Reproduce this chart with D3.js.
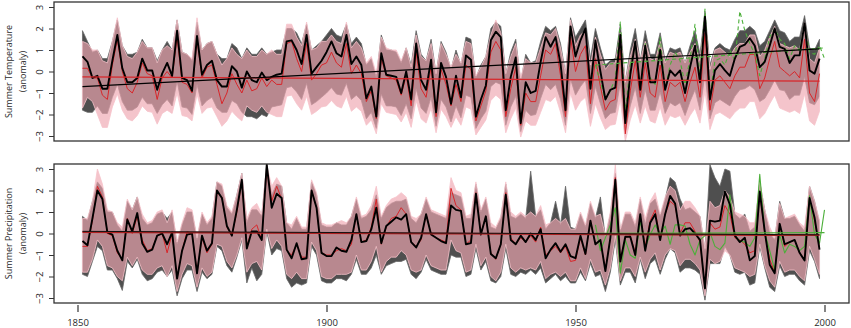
<!DOCTYPE html>
<html>
<head>
<meta charset="utf-8">
<script src="https://cdn.jsdelivr.net/npm/d3@7"></script>
<style>
    body { margin: 0; background: #fff; }
    svg text { font-family: "Open Sans", "Liberation Sans", sans-serif; fill: #2a2a2a; }
</style>
</head>
<body>
<svg id="chart" width="851" height="328"></svg>
<script>
// ---- data (anomalies) ----
const years = d3.range(1851, 2000);
const greenYears = d3.range(1954, 2001);
const xTicks = [1850, 1900, 1950, 2000];
const yTicks = [-3, -2, -1, 0, 1, 2, 3];

// summer temperature
const tempBlack = [0.7,0.45,-0.3,-0.2,-0.8,-0.8,0.5,1.7,0.15,-0.5,
    -0.5,-0.3,0.6,0.05,0.05,-0.85,-0.1,0.4,-0.2,1.9,
    -0.3,-0.4,-0.9,1.65,-0.15,0.3,0.5,-0.4,-0.7,-0.7,
    0.25,0,-0.75,0,-0.4,-0.5,-0.05,-0.4,-0.25,-0.15,
    -0.1,1.4,1.45,1.0,0.35,1.7,-0.1,0.2,0.5,0.9,
    1.4,0.85,0.7,1.7,0.35,0.7,0.3,-1.25,-0.7,-2.1,
    0.85,-0.15,-0.2,-0.25,-1.0,0,-1.3,1.3,-0.4,-0.85,
    0.55,-1.9,0.4,-0.25,-1.5,-0.2,-1.2,0.75,0.55,-2.1,
    -1.3,-0.65,1.45,1.85,1.6,-1.8,-0.25,0.65,-2.4,-0.5,
    -1.0,-0.9,0.45,1.6,1.15,1.6,0.35,-1.8,2.1,0.7,
    1.45,2.0,-0.8,1.45,0,-1.3,-0.85,-0.75,1.7,-2.4,
    -0.15,1.4,-0.85,1.2,-0.5,-0.5,1.0,-0.85,0.05,-0.2,
    0.05,-1.0,0.2,1.2,-0.5,2.55,-1.3,0.05,0.35,0.05,
    -0.2,0.6,1.15,1.25,1.55,1.2,0.2,0.45,1.2,2.0,
    1.15,1.05,0.4,0.75,0.75,2.25,0.05,-0.1,0.6];
const tempRed = [0.15,0.15,-0.3,-0.3,-1.1,-1.3,0.3,1.5,0.0,-0.8,
    -1.0,-0.5,0.4,-0.1,-0.2,-1.3,-0.3,0.0,-0.3,1.6,
    -0.5,-0.6,-1.0,1.5,-0.3,0.2,0.3,-0.6,-1.5,-1.0,
    -0.1,-0.6,-1.0,-0.4,-0.9,-0.8,-0.3,-0.7,-0.4,-0.6,
    -0.6,1.3,1.4,0.6,0.0,1.3,-0.4,-0.1,0.3,0.4,
    0.9,0.4,0.2,1.3,-0.1,0.3,-0.1,-1.4,-0.9,-2.2,
    0.6,-0.2,-0.3,-0.4,-1.1,-0.2,-1.6,0.9,-0.8,-1.2,
    0.2,-2.1,0.1,-0.6,-1.6,-0.6,-1.4,0.3,0.1,-2.3,
    -1.6,-0.9,0.9,1.4,1.0,-2.1,-0.8,0.2,-2.5,-1.0,
    -1.4,-1.4,-0.2,1.0,0.8,1.3,-0.2,-2.1,1.6,0.0,
    0.8,1.2,-1.5,0.6,-0.7,-1.8,-1.4,-1.3,1.0,-2.9,
    -0.9,0.5,-1.2,0.4,-1.0,-1.2,0.3,-1.4,-0.5,-0.7,
    -0.5,-1.4,-0.5,0.2,-1.2,1.8,-1.8,-0.4,-0.2,-0.5,
    -0.8,-0.2,0.2,0.2,0.8,0.8,-0.8,-0.3,0.6,1.4,
    0.2,0.0,-0.2,0.0,-0.3,1.5,-1.0,-1.4,-0.1];
const tempPinkHi = [1.4,1.3,1.0,1.0,0.5,0.4,1.4,2.5,1.2,0.7,
    0.6,0.9,1.4,1.1,1.1,0.4,1.0,1.2,1.0,2.4,
    0.9,0.8,0.6,2.5,1.0,1.3,1.4,0.8,0.3,0.6,
    1.1,0.8,0.6,1.0,0.7,0.7,1.0,0.8,1.0,0.8,
    0.8,2.2,2.2,1.6,1.2,2.3,1.0,1.1,1.4,1.4,
    1.7,1.4,1.3,2.3,1.1,1.4,1.1,0.4,0.7,-0.1,
    1.6,1.1,1.0,1.0,0.5,1.1,0.2,1.7,0.7,0.5,
    1.3,-0.1,1.3,0.8,0.2,0.8,0.4,1.4,1.3,-0.2,
    0.2,0.7,1.7,2.4,1.8,-0.1,0.7,1.3,-0.3,0.6,
    0.4,0.4,1.1,1.8,1.7,2.0,1.1,-0.1,2.4,1.2,
    1.7,1.9,0.3,1.6,0.8,0.1,0.4,0.4,1.8,-0.5,
    0.7,1.5,0.5,1.4,0.6,0.5,1.4,0.4,0.9,0.8,
    0.9,0.4,0.9,1.3,0.5,2.5,0.1,1.0,1.1,0.9,
    0.7,1.1,1.3,1.3,1.7,1.7,0.7,1.0,1.6,2.1,
    1.3,1.2,1.1,1.2,1.0,2.3,0.6,0.4,1.1];
const tempPinkLo = [-1.7,-1.2,-1.4,-2.0,-2.6,-2.6,-1.65,-1.05,-1.8,-2.2,
    -2.3,-2.05,-1.6,-1.85,-1.9,-2.45,-1.95,-1.8,-1.95,-1.0,
    -2.05,-2.1,-2.3,-1.05,-1.95,-1.7,-1.65,-2.1,-2.55,-2.3,
    -1.85,-2.1,-2.3,-1.6,-1.8,-1.9,-1.6,-1.9,-2.0,-2.1,
    -2.1,-1.15,-1.1,-1.5,-1.8,-1.15,-2.0,-1.85,-1.65,-1.6,
    -1.35,-1.6,-1.7,-1.15,-1.85,-1.65,-1.85,-2.5,-2.25,-2.9,
    -1.5,-1.9,-1.95,-2.0,-2.35,-1.9,-2.6,-1.35,-2.2,-2.4,
    -1.7,-2.85,-1.75,-2.1,-2.6,-2.1,-2.5,-1.65,-1.75,-2.95,
    -2.6,-2.25,-1.35,-1.1,-1.3,-2.85,-2.2,-1.7,-3.05,-2.3,
    -2.5,-2.5,-1.9,-1.3,-1.4,-1.15,-1.9,-2.85,-1.0,-1.8,
    -1.4,-1.2,-2.55,-1.5,-2.15,-2.7,-2.5,-2.45,-1.3,-3.25,
    -2.25,-1.55,-2.4,-1.6,-2.3,-2.4,-1.65,-2.5,-2.05,-2.15,
    -2.05,-2.5,-2.05,-1.7,-2.4,-0.9,-2.7,-2.0,-1.9,-2.05,
    -2.2,-1.9,-1.7,-1.7,-1.4,-1.4,-2.2,-1.95,-1.5,-1.1,
    -1.7,-1.8,-1.9,-1.8,-1.95,-1.05,-2.3,-2.5,-1.85];
const tempGreyHi = [1.9,1.4,0.9,1.0,0.6,0.6,1.4,2.4,1.2,0.8,
    0.8,0.9,1.5,1.1,1.1,0.5,1.0,1.4,1.0,2.4,
    0.9,0.8,0.5,2.3,1.0,1.3,1.4,0.8,0.6,0.6,
    1.3,1.1,0.6,1.1,0.8,0.8,1.1,0.8,0.9,1.0,
    1.0,2.0,2.0,1.8,1.3,2.2,1.0,1.2,1.4,1.7,
    2.0,1.7,1.6,2.2,1.3,1.6,1.3,0.3,0.6,-0.3,
    1.7,1.0,1.0,0.9,0.4,1.1,0.3,1.9,0.8,0.5,
    1.5,-0.1,1.4,0.9,0.1,1.0,0.3,1.6,1.5,-0.3,
    0.3,0.7,2.0,2.3,2.1,-0.1,0.9,1.5,-0.5,0.8,
    0.4,0.5,1.4,2.1,1.9,2.1,1.3,-0.1,2.5,1.6,
    2.0,2.4,0.6,2.0,1.1,0.3,0.5,0.6,2.2,-0.5,
    1.0,2.0,0.5,1.9,0.8,0.8,1.8,0.5,1.1,1.0,
    1.1,0.4,1.2,1.9,0.8,2.8,0.3,1.1,1.3,1.1,
    1.0,1.5,1.9,1.9,2.1,1.9,1.2,1.4,1.9,2.4,
    1.9,1.8,1.4,1.6,1.6,2.6,1.1,1.0,1.5];
const tempGreyLo = [-1.8,-1.9,-1.9,-1.6,-1.95,-1.95,-1.2,-0.6,-1.4,-1.8,
    -1.8,-1.65,-1.2,-1.5,-1.5,-1.95,-1.55,-1.3,-1.6,-0.45,
    -1.65,-1.7,-2.0,-0.6,-1.6,-1.35,-1.2,-1.7,-1.9,-1.9,
    -1.35,-1.5,-1.9,-2.1,-2.1,-2.2,-2.0,-2.1,-1.65,-1.6,
    -1.55,-0.75,-0.7,-0.95,-1.3,-0.55,-1.55,-1.4,-1.2,-1.0,
    -0.75,-1.05,-1.1,-0.55,-1.3,-1.1,-1.35,-2.2,-1.9,-2.65,
    -1.05,-1.6,-1.6,-1.65,-2.05,-1.5,-2.2,-0.8,-1.7,-1.95,
    -1.2,-2.55,-1.3,-1.65,-2.35,-1.6,-2.15,-1.1,-1.2,-2.65,
    -2.2,-1.85,-0.7,-0.5,-0.6,-2.5,-1.65,-1.15,-2.8,-1.8,
    -2.05,-2.0,-1.25,-0.6,-0.85,-0.6,-1.3,-2.5,-0.35,-1.1,
    -0.7,-0.4,-1.95,-0.7,-1.5,-2.2,-1.95,-1.9,-0.55,-2.8,
    -1.6,-0.75,-1.95,-0.85,-1.8,-1.8,-0.95,-1.95,-1.45,-1.6,
    -1.45,-2.05,-1.4,-0.85,-1.8,-0.1,-2.2,-1.45,-1.3,-1.45,
    -1.6,-1.15,-0.85,-0.8,-0.65,-0.85,-1.4,-1.25,-0.85,-0.4,
    -0.85,-0.9,-1.3,-1.1,-1.1,-0.25,-1.45,-1.55,-1.15];
const tempGreen = [0.3,-0.5,-1.3,-0.9,-0.3,2.3,-1.9,0.3,1.2,-0.7,
    1.3,-0.3,-0.6,1.6,-0.8,0.3,0.9,0.5,-0.6,0.6,
    2.2,-0.2,2.9,-1.1,0.5,0.6,0.3,1.0,0.5,2.8,
    1.9,1.3,0.8,-0.2,0.6,1.6,2.0,1.5,1.3,0.6,
    1.2,1.0,2.1,0.9,0.8,1.2,0.6];

// summer precipitation
const precBlack = [-0.35,-0.55,0.7,2.0,1.6,0.05,-0.05,-0.8,-1.25,0.65,
    0.1,0.95,-0.45,-0.85,-0.75,-0.1,0,-0.5,0.05,-2.1,
    -0.8,-0.05,0,-1.85,-0.1,-0.8,-0.45,2.0,1.65,0.35,
    -0.1,1.1,2.5,-0.7,0.1,0.1,-0.3,3.2,1.2,1.85,
    1.65,-0.75,-1.15,-0.45,-1.2,-1.15,2.0,1.2,-0.9,-1.05,
    -1.05,-0.65,-0.8,-0.85,-0.3,0.9,-0.4,-0.35,0.2,1.2,
    -0.45,0.35,0.55,0.75,0.65,0.9,-0.4,-0.65,-0.2,0.9,
    -0.05,-0.2,-0.35,-0.45,1.3,1.1,1.05,-0.5,-0.45,1.85,
    -0.05,0.8,-0.95,-1.15,-0.5,1.8,-0.3,-0.5,-0.1,-0.4,
    0,-0.3,0.2,-1.15,-0.75,-0.45,-0.85,-0.5,-1.05,-1.15,
    -0.1,-0.95,0.6,-0.5,-0.3,-1.75,-0.2,2.5,-1.3,-0.15,
    -0.15,-1.0,0.9,-0.8,0.5,0.9,-0.3,0.9,1.75,1.4,
    -0.1,0.2,0.25,0,-0.3,-2.55,0.6,0.55,0.6,1.95,
    1.35,-0.1,-0.4,-0.2,-1.25,-1.05,1.95,0.1,-1.45,-1.85,
    0.45,-0.5,-0.4,-0.3,-0.9,-1.25,1.65,0.75,-0.75];
const precRed = [-0.6,-0.6,0.6,2.2,1.7,0.0,-0.1,-0.9,-1.2,0.7,
    0.0,0.8,-0.3,-0.8,-0.7,-0.1,0.0,-0.9,0.0,-2.1,
    -0.8,0.1,0.0,-1.8,-0.2,-0.9,-0.5,1.9,1.7,0.3,
    -0.1,1.0,2.4,-0.6,0.2,0.4,-0.3,3.0,1.5,2.2,
    1.6,-0.8,-1.0,-0.5,-1.1,-1.1,2.0,1.2,-0.9,-1.0,
    -1.0,-0.8,-0.7,-0.8,-0.5,0.9,-0.4,-0.3,0.3,1.6,
    -0.5,0.3,0.7,0.8,1.2,0.9,-0.4,-0.6,-0.3,0.9,
    0.0,-0.2,-0.3,-0.4,2.1,1.3,1.1,-0.5,-0.3,1.9,
    0.0,0.8,-0.9,-1.2,-0.5,1.9,-0.2,-0.5,-0.2,-0.4,
    -0.1,-0.4,0.3,-1.0,-0.8,-0.6,-0.9,-0.6,-1.3,-1.25,
    -0.2,-1.0,0.6,-0.5,-0.3,-1.7,-0.2,2.6,-1.3,-0.2,
    -0.1,-0.9,0.8,-0.6,0.6,1.1,-0.3,0.9,1.5,1.3,
    0.0,0.5,0.5,0.1,-0.4,-2.5,0.5,0.2,0.3,1.3,
    0.9,-0.2,-0.3,-0.5,-0.9,-0.8,1.9,0.0,-1.2,-1.8,
    0.4,-0.6,-0.4,-0.3,-0.9,-1.2,1.6,0.6,-0.7];
const precPinkHi = [0.7,0.7,1.5,3.0,2.3,1.1,1.0,0.5,0.3,1.6,
    1.1,1.7,0.9,0.5,0.6,1.0,1.1,0.5,1.1,-0.4,
    0.5,1.2,1.1,-0.2,1.0,0.5,0.8,2.4,2.3,1.3,
    1.0,1.8,2.8,0.7,1.2,1.4,0.9,3.2,2.2,2.6,
    2.2,0.5,0.4,0.8,0.3,0.3,2.5,1.9,0.5,0.4,
    0.4,0.5,0.6,0.5,0.8,1.7,0.8,0.9,1.3,2.2,
    0.8,1.3,1.6,1.7,1.9,1.7,0.8,0.7,0.9,1.7,
    1.1,1.0,0.9,0.8,2.6,2.0,1.9,0.8,0.9,2.4,
    1.1,1.7,0.5,0.3,0.8,2.4,1.0,0.8,1.0,0.8,
    1.0,0.8,1.3,0.4,0.5,0.7,0.5,0.7,0.2,0.2,
    1.0,0.4,1.5,0.8,0.9,-0.1,1.0,3.2,0.2,1.0,
    1.0,0.5,1.7,0.7,1.5,1.9,0.9,1.7,2.2,2.0,
    1.1,1.5,1.5,1.2,0.8,-0.7,1.5,1.2,1.3,2.0,
    1.7,1.0,0.9,0.8,0.5,0.5,2.4,1.1,0.3,-0.2,
    1.4,0.7,0.8,0.9,0.5,0.3,2.2,1.5,0.6];
const precPinkLo = [-1.8,-1.8,-1.2,-0.3,-0.6,-1.5,-1.6,-2.0,-2.2,-1.1,
    -1.5,-1.1,-1.7,-1.9,-1.9,-1.6,-1.5,-2.0,-1.5,-2.7,
    -1.9,-1.4,-1.5,-2.5,-1.6,-2.0,-1.8,-0.5,-0.6,-1.3,
    -1.6,-1.0,-0.2,-1.8,-1.4,-1.3,-1.7,0.2,-0.7,-0.3,
    -0.6,-1.9,-2.1,-1.8,-2.1,-2.1,-0.4,-0.8,-2.0,-2.1,
    -2.1,-1.9,-1.9,-1.9,-1.8,-1.0,-1.7,-1.7,-1.3,-0.6,
    -1.8,-1.3,-1.1,-1.1,-0.8,-1.0,-1.7,-1.8,-1.7,-1.0,
    -1.5,-1.6,-1.7,-1.7,-0.3,-0.8,-0.9,-1.8,-1.7,-0.5,
    -1.5,-1.1,-2.0,-2.2,-1.8,-0.5,-1.6,-1.8,-1.6,-1.7,
    -1.6,-1.7,-1.3,-2.1,-1.9,-1.8,-2.0,-1.8,-2.2,-2.2,
    -1.6,-2.1,-1.2,-1.8,-1.7,-2.4,-1.6,-0.1,-2.2,-1.6,
    -1.6,-2.0,-1.1,-1.8,-1.2,-0.9,-1.7,-1.0,-0.7,-0.8,
    -1.5,-1.2,-1.2,-1.4,-1.7,-2.9,-1.2,-1.4,-1.3,-0.8,
    -1.0,-1.6,-1.7,-1.8,-2.0,-1.9,-0.5,-1.5,-2.2,-2.5,
    -1.3,-1.8,-1.7,-1.7,-2.0,-2.2,-0.6,-1.2,-1.9];
const precGreyHi = [0.8,0.6,1.5,2.4,2.1,1.0,1.0,0.4,0.1,1.5,
    1.1,1.7,0.7,0.4,0.5,0.9,1.0,0.7,1.0,-0.5,
    0.4,1.0,1.0,-0.3,0.9,0.4,0.7,2.4,2.2,1.2,
    0.9,1.8,2.8,0.5,1.1,1.1,0.8,3.2,1.8,2.3,
    2.2,0.5,0.2,0.7,0.2,0.2,2.4,1.8,0.4,0.3,
    0.3,0.5,0.4,0.4,0.8,1.6,0.7,0.8,1.1,1.8,
    0.7,1.2,1.4,1.5,1.5,1.6,0.7,0.5,0.9,1.6,
    1.0,0.9,0.8,0.7,1.9,1.8,1.7,0.7,0.7,2.3,
    1.0,1.6,0.3,0.2,0.7,2.3,0.8,0.7,0.9,0.7,
    2.9,0.8,1.1,0.2,0.5,1.5,0.4,2.2,0.3,0.2,
    0.9,0.3,1.4,0.7,1.7,-0.2,0.9,2.8,0.1,0.9,
    0.9,0.3,1.6,0.4,1.4,1.6,0.8,1.6,2.6,2.4,
    1.6,1.1,1.2,1.0,0.8,-0.8,3.2,2.6,2.2,3.0,
    2.9,0.9,0.7,0.9,0.1,0.3,2.4,1.1,0.0,-0.3,
    1.5,0.7,0.7,0.8,0.4,0.1,2.2,1.5,0.5];
const precGreyLo = [-1.9,-2.0,-1.3,-0.6,-0.8,-1.7,-1.7,-2.1,-2.65,-1.3,
    -1.6,-1.2,-1.9,-2.2,-2.1,-1.8,-1.7,-2.0,-1.7,-2.9,
    -2.1,-1.7,-1.7,-2.7,-1.8,-2.1,-1.9,-0.6,-0.8,-1.5,
    -1.8,-1.1,-0.3,-2.3,-1.6,-2.2,-1.9,0.1,-1.0,-0.7,
    -0.8,-2.1,-2.5,-2.3,-2.4,-2.3,-0.6,-1.0,-2.2,-2.3,
    -2.3,-2.1,-2.1,-2.2,-1.9,-1.2,-1.9,-1.9,-1.6,-1.0,
    -1.9,-1.5,-1.4,-1.3,-1.3,-1.2,-1.9,-2.1,-1.8,-1.2,
    -1.7,-1.8,-1.9,-1.9,-1.0,-1.1,-1.1,-2.0,-1.9,-0.7,
    -1.7,-1.3,-2.2,-2.3,-2.0,-0.7,-1.9,-2.0,-1.8,-1.9,
    -1.7,-1.9,-1.6,-2.3,-2.1,-1.9,-2.2,-2.0,-2.3,-2.3,
    -1.8,-2.2,-1.4,-2.0,-1.9,-2.7,-1.8,-0.3,-2.4,-1.8,
    -1.8,-2.3,-1.2,-2.1,-1.4,-1.2,-1.9,-1.2,-0.7,-0.9,
    -1.8,-1.6,-1.6,-1.7,-1.9,-3.1,-1.4,-1.4,-1.4,-0.6,
    -1.0,-1.8,-1.9,-1.8,-2.4,-2.3,-0.6,-1.6,-2.5,-2.7,
    -1.5,-2.0,-1.9,-1.9,-2.2,-2.4,-0.8,-1.3,-2.1];
const precGreen = [0.4,-0.8,-0.2,0.4,1.2,-1.85,-0.3,-1.0,-1.15,0.6,
    -0.65,-0.05,0.4,-0.05,0.35,-0.5,0.4,0.4,0.35,-0.5,
    -1.0,-0.3,-0.1,0.05,-0.6,-0.75,-0.45,1.8,-0.1,-0.35,
    -0.4,-0.6,-0.2,2.75,0.05,-0.8,-1.7,-0.05,-0.9,-0.5,
    -0.6,-0.8,-0.6,1.75,-0.05,-0.45,1.1];

// linear trends: start and end values
const trendYears = [1851, 1999];
const greenTrendYears = [1954, 2000];
const tempBlackTrend = [-0.7, 1.05];
const tempRedTrend = [-0.25, -0.45];
const tempGreenTrend = [0.3, 1.1];
const precBlackTrend = [0.1, -0.06];
const precRedTrend = [0.06, -0.08];
const precGreenTrend = [0.0, 0.04];

/** Class implementing one anomaly panel. */
class AnomalyPanel {
    /**
     * Creates a panel
     * @param svg the svg selection
     * @param top top edge of the frame
     * @param bottom bottom edge of the frame
     * @param id unique id used for the clip path
     */
    constructor(svg, top, bottom, id) {
        this.svg = svg;
        this.top = top;
        this.bottom = bottom;
        this.left = 54;
        this.right = 849;
        this.x = d3.scaleLinear().domain([1850, 2000]).range([77.5, 824.5]);
        this.y = d3.scaleLinear().domain([-3, 3]).range([bottom - 5, top + 5]);

        svg.append("clipPath").attr("id", id)
            .append("rect")
            .attr("x", this.left).attr("y", top)
            .attr("width", this.right - this.left).attr("height", bottom - top);
        this.g = svg.append("g").attr("clip-path", "url(#" + id + ")");
    }

    /**
     * Draws a shaded band between two series
     */
    band(xs, lo, hi, fill, opacity, stroke) {
        let area = d3.area()
            .x((d, i) => this.x(xs[i]))
            .y0((d, i) => this.y(lo[i]))
            .y1((d, i) => this.y(hi[i]));
        this.g.append("path")
            .datum(lo)
            .attr("d", area)
            .attr("fill", fill)
            .attr("fill-opacity", opacity)
            .attr("stroke", stroke)
            .attr("stroke-width", 0.8);
    }

    /**
     * Draws a line through a series
     */
    line(xs, vals, color, width, dash) {
        let line = d3.line()
            .x((d, i) => this.x(xs[i]))
            .y(d => this.y(d));
        this.g.append("path")
            .datum(vals)
            .attr("d", line)
            .attr("fill", "none")
            .attr("stroke", color)
            .attr("stroke-width", width)
            .attr("stroke-linejoin", "round")
            .attr("stroke-dasharray", dash || null);
    }

    /**
     * Draws the frame, the y axis and the axis title
     */
    frame(title) {
        this.svg.append("rect")
            .attr("x", this.left).attr("y", this.top)
            .attr("width", this.right - this.left)
            .attr("height", this.bottom - this.top)
            .attr("fill", "none")
            .attr("stroke", "#333")
            .attr("stroke-width", 1.3);

        let axis = this.svg.append("g")
            .attr("transform", "translate(" + this.left + ",0)")
            .call(d3.axisLeft(this.y).tickValues(yTicks).tickSize(5).tickFormat(d3.format("d")));
        axis.select(".domain").remove();
        axis.selectAll("line").attr("stroke", "#333");
        axis.selectAll("text")
            .attr("x", null).attr("dy", null)
            .attr("transform", "translate(-11,0) rotate(-90)")
            .attr("text-anchor", "middle")
            .style("font-size", "9.5px");

        let cy = (this.top + this.bottom) / 2;
        this.svg.append("text")
            .attr("transform", "translate(12," + cy + ") rotate(-90)")
            .attr("text-anchor", "middle")
            .style("font-size", "9px")
            .text(title);
        this.svg.append("text")
            .attr("transform", "translate(26," + cy + ") rotate(-90)")
            .attr("text-anchor", "middle")
            .style("font-size", "9px")
            .text("(anomaly)");
    }
}

let svg = d3.select("#chart");

// Summer temperature panel
let temp = new AnomalyPanel(svg, 2, 141, "clipTemp");
temp.band(years, tempGreyLo, tempGreyHi, "#4f4f4f", 1, "#666");
temp.band(years, tempPinkLo, tempPinkHi, "#efa5b0", 0.66, "#f6c3ca");
temp.line(years, tempRed, "#d8262a", 1);
temp.line(greenYears, tempGreen, "#4caf3a", 1.1, "4,3");
temp.line(years, tempBlack, "#000", 1.9);
temp.line(trendYears, tempRedTrend, "#d8262a", 1.2);
temp.line(greenTrendYears, tempGreenTrend, "#4caf3a", 1.2, "4,3");
temp.line(trendYears, tempBlackTrend, "#000", 1.2);
temp.frame("Summer Temperature");

// Summer precipitation panel
let prec = new AnomalyPanel(svg, 164, 303, "clipPrec");
prec.band(years, precGreyLo, precGreyHi, "#4f4f4f", 1, "#666");
prec.band(years, precPinkLo, precPinkHi, "#efa5b0", 0.66, "#f6c3ca");
prec.line(years, precRed, "#d8262a", 1);
prec.line(greenYears, precGreen, "#4caf3a", 1.1);
prec.line(years, precBlack, "#000", 1.9);
prec.line(greenTrendYears, precGreenTrend, "#4caf3a", 1.4);
prec.line(trendYears, precRedTrend, "#b02020", 1.8);
prec.line(trendYears, precBlackTrend, "#111", 1);
prec.frame("Summer Precipitation");

// Shared x axis under the lower panel
let xAxis = svg.append("g")
    .attr("transform", "translate(0,305)")
    .call(d3.axisBottom(prec.x).tickValues(xTicks).tickSize(7).tickFormat(d3.format("d")));
xAxis.select(".domain").remove();
xAxis.selectAll("line").attr("stroke", "#333").attr("stroke-width", 1.2);
xAxis.selectAll("text").attr("y", 14).style("font-size", "9.5px");
</script>
</body>
</html>
